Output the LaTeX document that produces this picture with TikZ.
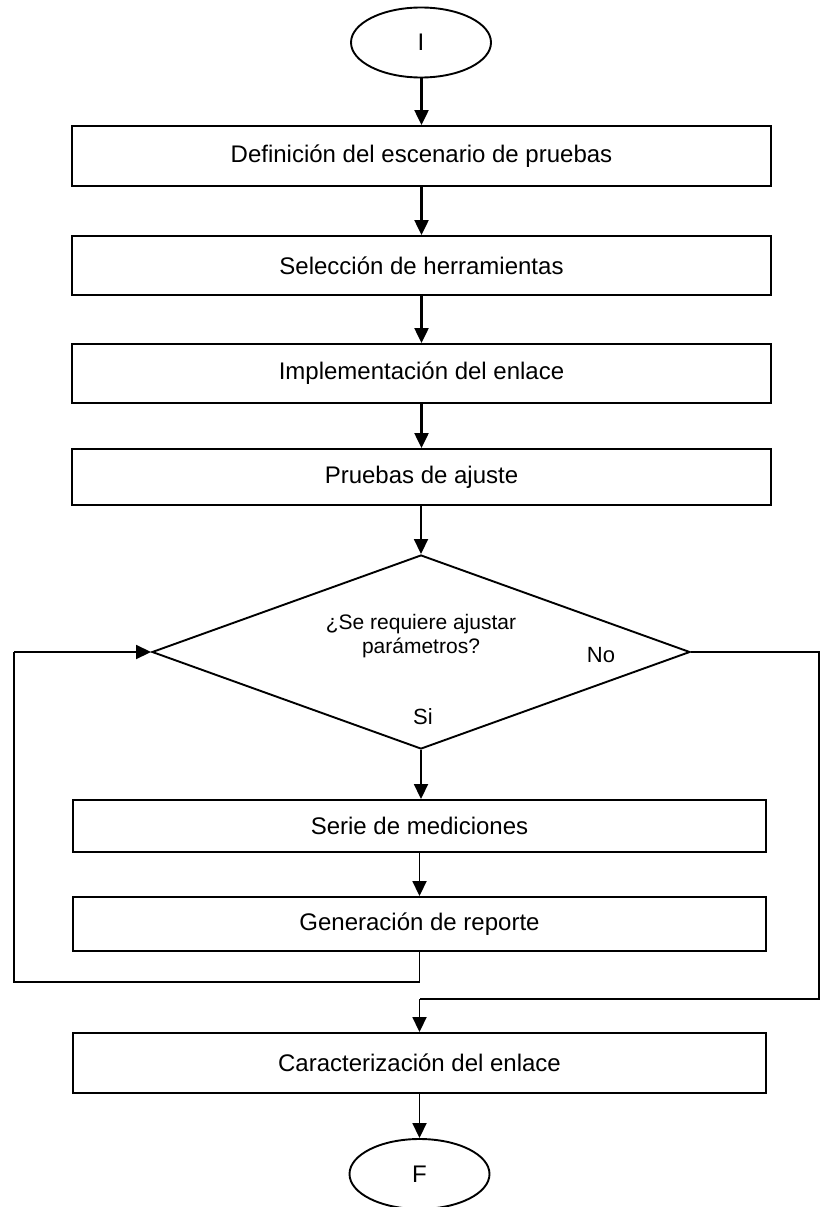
\documentclass[tikz,border=0pt]{standalone}
\usepackage{fontspec}
\setmainfont{Liberation Sans}
\usetikzlibrary{shapes.geometric,arrows.meta}
\begin{document}
\begin{tikzpicture}[x=1pt,y=-1pt,
  stepbox/.style={draw,line width=1.9pt,rectangle,inner sep=0pt,
    font=\fontsize{24}{28}\selectfont},
  terminal/.style={draw,line width=1.9pt,ellipse,inner sep=0pt,
    minimum width=140pt,minimum height=70pt,font=\fontsize{24}{28}\selectfont},
  decision/.style={draw,line width=1.9pt,diamond,inner sep=0pt,
    minimum width=538pt,minimum height=194pt},
  lbl/.style={inner sep=0pt,font=\fontsize{22}{24}\selectfont},
  bigarrow/.style={line width=2.3pt,-{Triangle[length=15pt,width=14pt]}},
  smallarrow/.style={line width=1.8pt,-{Triangle[length=15pt,width=14pt]}},
  plainline/.style={line width=1.8pt,line join=miter}
]
\useasboundingbox (0,0) rectangle (820,1207);

% start and end terminals
\node[terminal] (I) at (421,42.5) {I};
\node[terminal] (F) at (419.5,1174) {F};

% process boxes
\node[stepbox,minimum width=699pt,minimum height=60pt] (b1) at (421.5,156) {Definición del escenario de pruebas};
\node[stepbox,minimum width=699pt,minimum height=59pt] (b2) at (421.5,265.5) {Selección de herramientas};
\node[stepbox,minimum width=699pt,minimum height=59pt] (b3) at (421.5,373.5) {Implementación del enlace};
\node[stepbox,minimum width=699pt,minimum height=56pt] (b4) at (421.5,477) {Pruebas de ajuste};

% decision
\node[decision] (dec) at (421,652) {};
\node[inner sep=0pt,align=center,font=\fontsize{21}{24}\selectfont] (q) at (421,636) {¿Se requiere ajustar\\parámetros?};
\node[lbl] (no) at (601,655) {No};
\node[lbl] (si) at (423,717) {Si};

\node[stepbox,minimum width=693pt,minimum height=52pt] (s1) at (419.5,826) {Serie de mediciones};
\node[stepbox,minimum width=693pt,minimum height=54pt] (s2) at (419.5,924) {Generación de reporte};
\node[stepbox,minimum width=693pt,minimum height=60pt] (c1) at (419.5,1063) {Caracterización del enlace};

% main flow
\draw[bigarrow] (I.south -| b1.north) -- (b1.north);
\draw[bigarrow] (b1) -- (b2);
\draw[bigarrow] (b2) -- (b3);
\draw[bigarrow] (b3) -- (b4);
\draw[smallarrow] (b4.south -| dec.north) -- (dec.north);
\draw[smallarrow] (dec.south) -- (dec.south |- s1.north);
\draw[smallarrow] (s1) -- (s2);

% loop back to the decision
\coordinate (lpa) at (419.5,982);
\coordinate (lpb) at (14,982);
\coordinate (lpc) at (lpb |- dec.west);
\draw[plainline] (s2.south) -- (lpa) -- (lpb) -- (lpc);
\draw[smallarrow] (lpc) -- (dec.west);

% "No" branch
\coordinate (nrb) at (819,999);
\coordinate (nra) at (nrb |- dec.east);
\coordinate (nrc) at (419.5,999);
\draw[plainline] (dec.east) -- (nra) -- (nrb) -- (nrc);
\draw[smallarrow] (nrc) -- (c1.north);

\draw[smallarrow] (c1) -- (F);
\end{tikzpicture}
\end{document}
